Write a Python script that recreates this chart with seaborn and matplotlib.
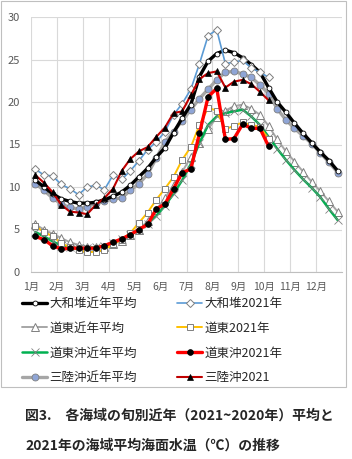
import matplotlib
matplotlib.use("Agg")
import matplotlib.pyplot as plt
import numpy as np
import pandas as pd
import seaborn as sns

sns.set_style("white")
plt.rcParams["font.family"] = ["Noto Sans CJK JP", "DejaVu Sans"]

months = [f"{m}月" for m in range(1, 13)]

yamato_avg = [10.8, 10.0, 9.2, 8.6, 8.3, 8.1, 8.1, 8.2, 8.5, 8.9, 9.4, 10.2,
              11.2, 12.2, 13.5, 14.6, 16.4, 18.1, 19.7, 23.0, 24.8, 25.7, 26.1, 25.8,
              25.2, 24.4, 23.5, 21.7, 20.0, 18.8, 17.5, 16.3, 15.2, 14.1, 13.1, 11.9]
yamato_2021 = [12.1, 11.4, 11.3, 10.3, 9.8, 9.1, 10.0, 10.2, 9.7, 11.4, 10.9, 11.9,
               13.1, 14.4, 15.3, 16.5, 18.5, 19.8, 21.5, 24.5, 27.8, 28.5, 24.5, 24.7,
               24.9, 24.0, 23.5, 22.9]
doto_avg = [5.6, 5.0, 4.5, 4.0, 3.5, 3.2, 3.0, 2.9, 3.0, 3.3, 3.7, 4.3,
            5.0, 6.0, 7.3, 8.7, 10.2, 11.8, 13.5, 15.2, 16.8, 18.2, 19.0, 19.5,
            19.7, 19.2, 18.5, 17.2, 15.6, 14.2, 13.0, 11.8, 10.6, 9.5, 8.3, 7.1]
doto_2021 = [5.4, 4.7, 4.2, 3.4, 2.9, 2.6, 2.3, 2.4, 2.6, 3.3, 3.8, 4.6,
             5.8, 7.0, 8.5, 9.8, 11.2, 13.2, 14.7, 17.3, 19.3, 19.0, 16.8, 17.2,
             17.6, 17.3, 17.1, 15.6]
dotooki_avg = [4.7, 4.2, 3.6, 3.1, 2.9, 2.8, 2.8, 2.9, 3.1, 3.4, 3.9, 4.4,
               5.0, 5.7, 6.6, 7.8, 9.2, 10.8, 12.7, 15.2, 17.3, 18.3, 18.7, 18.9,
               19.1, 18.3, 17.3, 15.9, 14.5, 13.2, 12.0, 10.9, 9.9, 8.8, 7.4, 6.1]
dotooki_2021 = [4.2, 3.8, 3.1, 2.7, 2.8, 2.8, 2.8, 2.8, 3.1, 3.5, 3.9, 4.4,
                5.0, 5.6, 7.4, 8.0, 9.8, 11.7, 12.1, 16.3, 20.6, 21.6, 15.6, 15.7,
                17.4, 16.9, 16.9, 14.8]
sanriku_avg = [10.4, 9.6, 8.7, 8.0, 7.6, 7.4, 7.7, 8.1, 8.3, 8.6, 8.7, 9.6,
               10.4, 11.5, 13.4, 15.3, 16.5, 17.8, 19.1, 20.4, 21.5, 22.6, 23.5, 23.6,
               23.3, 22.9, 22.0, 21.0, 19.2, 17.9, 16.9, 16.0, 15.1, 14.0, 12.9, 11.7]
sanriku_2021 = [11.4, 10.5, 9.4, 7.9, 7.1, 7.0, 6.8, 7.9, 8.7, 9.8, 11.9, 13.3,
                14.2, 14.7, 15.9, 17.0, 18.7, 18.9, 20.8, 22.7, 23.4, 23.6, 21.7, 22.4,
                22.6, 22.1, 21.2, 20.2]

caption = ["図3.　各海域の旬別近年（2021~2020年）平均と",
           "2021年の海域平均海面水温（℃）の推移"]

fig = plt.figure(figsize=(3.52, 4.59), dpi=100)
ax = fig.add_axes([31 / 352, 1 - 272 / 459, 311 / 352, 255 / 459])

handles = {}


def draw(values, label, **style):
    df = pd.DataFrame({"jun": np.arange(len(values)) + 0.5, "temp": values})
    sns.lineplot(data=df, x="jun", y="temp", ax=ax, legend=False, **style)
    handles[label] = ax.lines[-1]


draw(sanriku_avg, "三陸沖近年平均", color="#a6a6a6", linewidth=2.4, marker="o",
     markersize=5, markerfacecolor="#8fa5d6", markeredgecolor="#7f7f7f", markeredgewidth=0.6)
draw(doto_avg, "道東近年平均", color="#a6a6a6", linewidth=1.4, marker="^",
     markersize=5.5, markerfacecolor="white", markeredgecolor="#7f7f7f", markeredgewidth=0.7)
draw(dotooki_avg, "道東沖近年平均", color="#00b050", linewidth=1.8, marker="x",
     markersize=6, markeredgecolor="#808080", markeredgewidth=0.6)
draw(doto_2021, "道東2021年", color="#ffc000", linewidth=1.4, marker="s",
     markersize=4, markerfacecolor="white", markeredgecolor="#7f7f7f", markeredgewidth=0.7)
draw(yamato_avg, "大和堆近年平均", color="black", linewidth=2.4, marker="o",
     markersize=3.5, markerfacecolor="white", markeredgecolor="black", markeredgewidth=0.6)
draw(yamato_2021, "大和堆2021年", color="#5b9bd5", linewidth=1.2, marker="D",
     markersize=4, markerfacecolor="white", markeredgecolor="#7f7f7f", markeredgewidth=0.7)
draw(dotooki_2021, "道東沖2021年", color="#ff0000", linewidth=2.4, marker="o",
     markersize=4.2, markerfacecolor="black", markeredgecolor="black", markeredgewidth=0.5)
draw(sanriku_2021, "三陸沖2021", color="#c00000", linewidth=1.5, marker="^",
     markersize=5, markerfacecolor="black", markeredgecolor="black", markeredgewidth=0.5)

ax.set_xlim(0, 36)
ax.set_ylim(0, 30)
ax.set_xticks(np.arange(0, 37, 3))
ax.set_xticklabels(months + [""])
ax.set_yticks(np.arange(0, 31, 5))
ax.set_xlabel("")
ax.set_ylabel("")
ax.grid(True, color="#d9d9d9", linewidth=0.8)
ax.set_axisbelow(True)
for side in ["top", "right", "left"]:
    ax.spines[side].set_visible(False)
ax.spines["bottom"].set_color("#bfbfbf")
ax.spines["bottom"].set_linewidth(0.8)
ax.tick_params(axis="x", length=3, color="#bfbfbf", labelsize=7.5, labelcolor="#595959", pad=4)
ax.tick_params(axis="y", length=0, labelsize=8, labelcolor="#595959", pad=8)

order = ["大和堆近年平均", "道東近年平均", "道東沖近年平均", "三陸沖近年平均",
         "大和堆2021年", "道東2021年", "道東沖2021年", "三陸沖2021"]
fig.legend([handles[k] for k in order], order, ncol=2, loc="upper left",
           bbox_to_anchor=(22 / 352, 1 - 297 / 459), frameon=False, fontsize=9,
           handlelength=2.0, handletextpad=0.2, columnspacing=3.2, labelspacing=0.94,
           borderaxespad=0, borderpad=0)

border = plt.Rectangle((1 / 352, 1 - 387 / 459), 345 / 352, 386 / 459,
                       transform=fig.transFigure, fill=False, edgecolor="#bfbfbf", linewidth=0.8)
fig.patches.append(border)

fig.text(25 / 352, 1 - 416 / 459, caption[0], fontsize=10, fontweight="bold", va="center")
fig.text(25 / 352, 1 - 446 / 459, caption[1], fontsize=10, fontweight="bold", va="center")

fig.savefig("out.png", dpi=100)
